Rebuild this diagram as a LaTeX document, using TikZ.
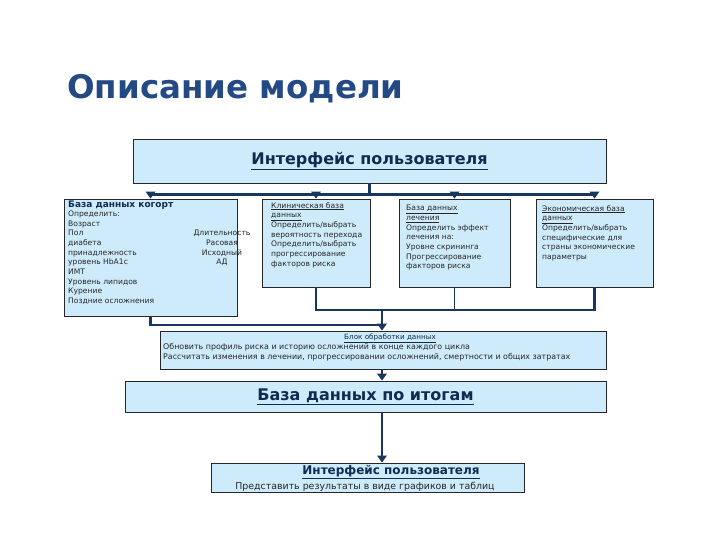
\documentclass[tikz,border=0pt]{standalone}
\usepackage{fontspec}
\setmainfont{DejaVu Sans}
\usetikzlibrary{arrows.meta, positioning, calc}
\definecolor{boxfill}{HTML}{CDEBFB}
\definecolor{linenavy}{HTML}{17375E}
\definecolor{titleblue}{HTML}{234A84}
\definecolor{textnavy}{HTML}{112A4F}

\begin{document}
\begin{tikzpicture}[x=1pt, y=-1pt,
  panel/.style={rectangle, draw=black!85, line width=0.8pt, fill=boxfill,
                inner sep=0pt, text=textnavy},
  bodytext/.style={anchor=north west, align=left, inner sep=0pt,
                   font=\fontsize{7.6}{9.7}\selectfont, text=black!85},
  bighead/.style={font=\bfseries\fontsize{16}{18}\selectfont},
  bus/.style={line width=2.8pt, color=linenavy},
  arr/.style={bus, -{Triangle[width=9.5pt,length=7pt]}}
]
\useasboundingbox (0,0) rectangle (720,540);

\node[anchor=west, inner sep=0pt, text=titleblue,
      font=\bfseries\fontsize{32.5}{38}\selectfont] (title) at (67,89) {Описание модели};

% user interface
\node[panel, bighead, minimum width=473pt, minimum height=44pt] (ui) at (369.5,161)
  {\underline{Интерфейс пользователя}};

% four data blocks
\node[panel, minimum width=173pt, minimum height=117pt] (cohort) at (150.5,257.5) {};
\node[panel, minimum width=108pt, minimum height=88pt] (clinic) at (316,243) {};
\node[panel, minimum width=111pt, minimum height=88pt] (treat) at (454.5,243) {};
\node[panel, minimum width=117pt, minimum height=88pt] (econ) at (594.5,243) {};

\node[anchor=west, inner sep=0pt, text=textnavy, font=\bfseries\fontsize{9}{10}\selectfont]
  (cohorthead) at (68,205) {База данных когорт};
\node[bodytext] (cohorttxt) at (68,210.5)
  {Определить:\\Возраст\\Пол\\диабета\\принадлежность\\уровень HbA1c\\ИМТ\\Уровень липидов\\Курение\\Поздние осложнения};
\node[bodytext, anchor=north, align=center] (cohortright) at (222,230)
  {Длительность\\Расовая\\Исходный\\АД};

\node[bodytext] (clinictxt) at (271,202)
  {\underline{Клиническая база}\\\underline{данных}\\Определить/выбрать\\вероятность перехода\\Определить/выбрать\\прогрессирование\\факторов риска};
\node[bodytext] (treattxt) at (406,205)
  {\underline{База данных}\\\underline{лечения}\\Определить эффект\\лечения на:\\Уровне скрининга\\Прогрессирование\\факторов риска};
\node[bodytext] (econtxt) at (542,205)
  {\underline{Экономическая база}\\\underline{данных}\\Определить/выбрать\\специфические для\\страны экономические\\параметры};

% processing block
\node[panel, minimum width=446pt, minimum height=38pt] (proc) at (383,350) {};
\node[inner sep=0pt, font=\fontsize{7.2}{9.7}\selectfont, text=textnavy] (prochead) at (390,338)
  {\underline{Блок обработки данных}};
\node[bodytext, font=\fontsize{7.9}{9.9}\selectfont] (proctxt) at (163,343.5)
  {Обновить профиль риска и историю осложнений в конце каждого цикла\\Рассчитать изменения в лечении, прогрессировании осложнений, смертности и общих затратах};

% results
\node[panel, bighead, minimum width=481pt, minimum height=31pt] (result) at (365.5,396.5)
  {\underline{База данных по итогам}};

% output interface
\node[panel, minimum width=313pt, minimum height=29pt] (final) at (367.5,477.5) {};
\node[inner sep=0pt, text=textnavy, font=\bfseries\fontsize{12}{14}\selectfont] (finalhead) at (391,472)
  {\underline{Интерфейс пользователя}};
\node[inner sep=0pt, font=\fontsize{9.4}{11}\selectfont, text=black!85] (finaltxt) at (365,486.5)
  {Представить результаты в виде графиков и таблиц};

% connectors
\draw[bus] (ui.south) -- ++(0,11) coordinate (split);
\draw[bus] (cohort.north |- split) -- (econ.north |- split);
\foreach \blk in {cohort,clinic,treat,econ}
  \draw[arr] (\blk.north |- split) -- (\blk.north);

\coordinate (merge) at (382,310);
\coordinate (join) at (382,325);
\draw[bus] (clinic.south) -- (clinic.south |- merge) -- (econ.south |- merge) -- (econ.south);
\draw[line width=0.8pt, linenavy] (treat.south) -- (treat.south |- merge);
\draw[bus] (cohort.south) |- (join);
\draw[arr] (merge) -- (merge |- proc.north);
\draw[arr] (proc.south -| merge) -- (result.north -| merge);
\draw[arr] (result.south -| merge) -- (final.north -| merge);

\end{tikzpicture}
\end{document}
